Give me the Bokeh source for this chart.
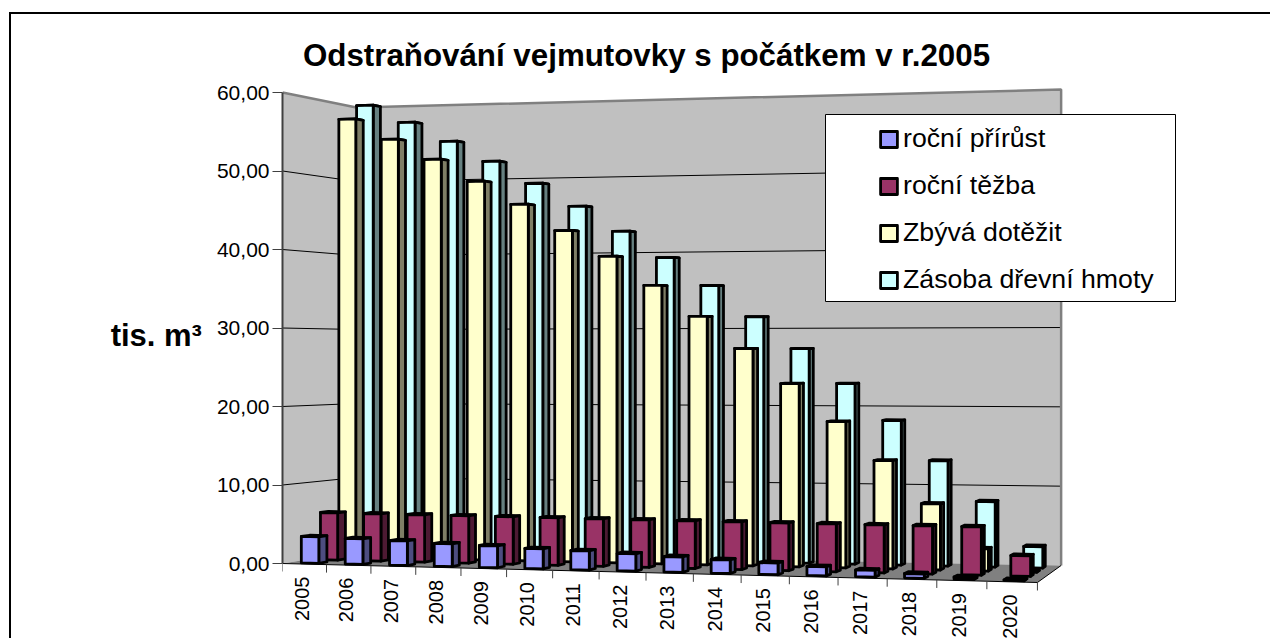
import numpy as np
from bokeh.plotting import figure
from bokeh.models import Range1d, FixedTicker, Legend, LegendItem
from bokeh.core.properties import value
from bokeh.embed import file_html
from bokeh.resources import INLINE

years = ["2005","2006","2007","2008","2009","2010","2011","2012","2013","2014","2015","2016","2017","2018","2019","2020"]
prirust = [3.38,3.25,3.11,2.87,2.74,2.5,2.37,2.14,1.89,1.66,1.42,1.09,0.81,0.52,0.25,0.05]
tezba = [6.13,6.1,6.08,6.06,6.04,6.02,5.99,5.97,5.95,5.93,5.91,5.9,5.89,5.88,5.87,2.47]
zbyva = [57.6,54.83,52.1,49.14,46.08,42.64,39.26,35.5,31.53,27.46,23.05,18.31,13.49,8.2,2.74,0.0]
zasoba = [59.88,57.48,54.84,52.09,49.09,46.0,42.66,39.2,35.55,31.5,27.4,22.96,18.3,13.27,8.19,2.65]
series_names = ["roční přírůst","roční těžba","Zbývá dotěžit","Zásoba dřevní hmoty"]
series_values = [prirust, tezba, zbyva, zasoba]
front_colors = ["#9999FF","#993366","#FFFFCC","#CCFFFF"]
side_colors = ["#4D4D80","#4D1A33","#7F7F66","#668080"]
top_colors = ["#7373BF","#73264D","#BFBF99","#99BFBF"]
y_ticks = [0,10,20,30,40,50,60]
y_tick_labels = ["0,00","10,00","20,00","30,00","40,00","50,00","60,00"]

FONT = "Liberation Sans"
Y0, SCALE = 563.0, 7.85
def vy(py):            # page pixel row -> value units of the y range
    return (Y0 - py) / SCALE

A = -0.0713
K = 0.08
def project(c, d, v):
    """c: 0..1 along the categories, d: 0..1 into the depth, v: value."""
    c, d, v = np.asarray(c, float), np.asarray(d, float), np.asarray(v, float)
    w = 1 + A * c
    dd = d * (1 + K) / (1 + K * d)
    xf, xb = (282 + 681 * c) / w, (356 + 629 * c) / w
    bf, bb = (563 - 22.5 * c) / w, (551 - 26.3 * c) / w
    hf, hb = 471 / w, (444 - 2 * c) / w
    sx = xf + (xb - xf) * dd
    base = bf + (bb - bf) * dd
    hh = hf + (hb - hf) * dd
    sy = base - hh * v / 60.0
    return sx, vy(sy)

p = figure(width=1261, height=626, output_backend="svg", toolbar_location=None,
           x_range=Range1d(282, 1272), y_range=Range1d(vy(640), vy(30)),
           x_axis_type=None, min_border_left=271, min_border_right=0,
           min_border_top=16, min_border_bottom=0, outline_line_color=None,
           styles={"margin-left": "9px", "margin-top": "12px",
                   "border-left": "2px solid #000000", "border-top": "2px solid #000000"})
p.grid.visible = False

ax = p.yaxis[0]
ax.ticker = FixedTicker(ticks=y_ticks)
ax.major_label_overrides = dict(zip(y_ticks, y_tick_labels))
ax.bounds = (0, 60)
ax.axis_line_color = "#404040"; ax.axis_line_width = 2
ax.major_tick_line_color = "#404040"; ax.major_tick_out = 10; ax.major_tick_in = 0
ax.minor_tick_line_color = None
ax.major_label_text_font = FONT
ax.major_label_text_font_size = "21px"
ax.major_label_text_color = "#000000"
ax.major_label_standoff = 3
ax.axis_label = "tis. m³"
ax.axis_label_orientation = "horizontal"
ax.axis_label_standoff = 12
ax.axis_label_text_font = FONT
ax.axis_label_text_font_size = "31px"
ax.axis_label_text_font_style = "bold"
ax.axis_label_text_color = "#000000"

# walls and floor
def poly(pts):
    xs, ys = zip(*[project(*q) for q in pts])
    return [float(a) for a in xs], [float(b) for b in ys]
lw = poly([(0,0,0),(0,0,60),(0,1,60),(0,1,0)])
bw = poly([(0,1,0),(0,1,60),(1,1,60),(1,1,0)])
fl = poly([(0,0,0),(0,1,0),(1,1,0),(1,0,0)])
p.patch(*lw, fill_color="#C0C0C0", line_color=None)
p.patch(*bw, fill_color="#C0C0C0", line_color=None)
p.patch(*fl, fill_color="#808080", line_color=None)
for t in y_ticks[1:-1]:
    x, y = poly([(0,0,t),(0,1,t),(1,1,t)])
    p.line(x, y, line_color="#000000", line_width=1)
x, y = poly([(0,0,60),(0,1,60),(1,1,60),(1,1,0)])
p.line(x, y, line_color="#808080", line_width=2.5)
x, y = poly([(0,0,0),(1,0,0),(1,1,0)])
p.line(x, y, line_color="#000000", line_width=1)

# category ticks and labels
n = len(years)
for i in range(n + 1):
    x, y = project(i / n, 0, 0)
    p.segment([float(x)], [float(y)], [float(x)], [float(y) - 8 / SCALE], line_color="#404040", line_width=1)
cx, cy = project((np.arange(n) + 0.5) / n, 0, 0)
p.text(cx - 2.5, cy - 12.5 / SCALE, text=years, angle=np.pi / 2, text_align="right", text_baseline="middle",
       text_font=value(FONT), text_font_size="20px", text_color="#000000")

# legend box
p.quad(left=[825], right=[1175], top=[vy(114)], bottom=[vy(301)], fill_color="#FFFFFF", line_color="#000000", line_width=1)

# 3-D columns, back row first
BW, BD = 0.2, 0.053
items = [None] * 4
for s in (3, 2, 1, 0):
    vals = series_values[s]
    dc = (s + 0.5) / 4
    top_x, top_y, sid_x, sid_y, fr_x, fr_y = [], [], [], [], [], []
    for i, v in enumerate(vals):
        c0, c1 = (i + 0.5 - BW) / n, (i + 0.5 + BW) / n
        d0, d1 = dc - BD, dc + BD
        a = poly([(c0,d0,0),(c0,d0,v),(c1,d0,v),(c1,d0,0)])
        b = poly([(c1,d0,0),(c1,d0,v),(c1,d1,v),(c1,d1,0)])
        t = poly([(c0,d0,v),(c0,d1,v),(c1,d1,v),(c1,d0,v)])
        fr_x.append(a[0]); fr_y.append(a[1])
        sid_x.append(b[0]); sid_y.append(b[1])
        top_x.append(t[0]); top_y.append(t[1])
    kw = dict(line_color="#000000", line_width=2.8, line_join="round")
    p.patches(top_x, top_y, fill_color=top_colors[s], **kw)
    p.patches(sid_x, sid_y, fill_color=side_colors[s], **kw)
    r = p.patches(fr_x, fr_y, fill_color=front_colors[s], **kw)
    items[s] = LegendItem(label=series_names[s], renderers=[r])

legend = Legend(items=items, location=(596, 345), padding=0, margin=0, spacing=16, glyph_width=21, glyph_height=20,
                label_standoff=4, label_text_font=FONT, label_text_font_size="26.7px", label_text_color="#000000",
                background_fill_alpha=0, border_line_color=None, label_height=30)
p.add_layout(legend, "center")

# chart title, written inside the plot area
p.text([646], [vy(55)], text=["Odstraňování vejmutovky s počátkem v r.2005"], text_align="center", text_baseline="middle",
       text_font=value(FONT), text_font_size="31.3px", text_font_style="bold", text_color="#000000")

open("out.html", "w").write(file_html(p, INLINE))
